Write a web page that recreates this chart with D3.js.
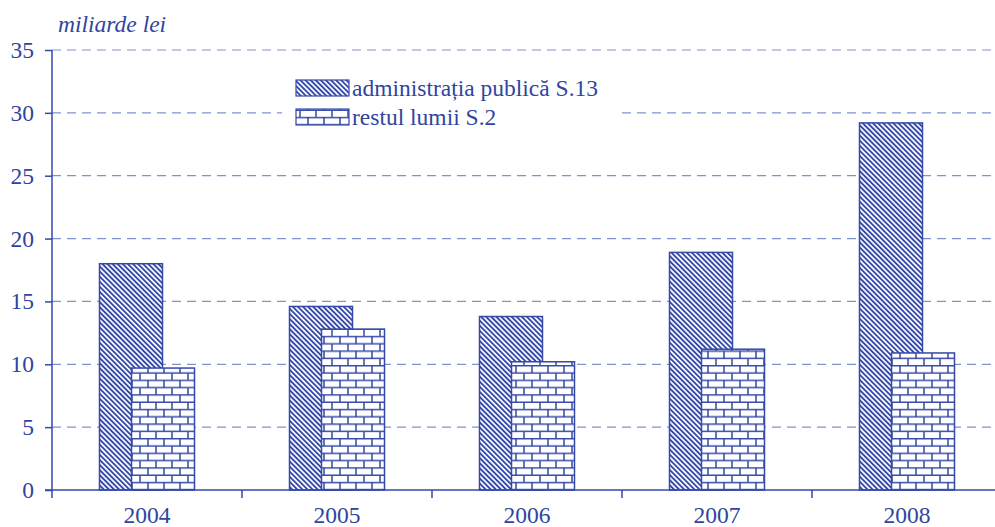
<!DOCTYPE html>
<html>
<head>
<meta charset="utf-8">
<script src="https://cdn.jsdelivr.net/npm/d3@7"></script>
<style>
  body { margin: 0; background: #fff; }
  text { font-family: "Liberation Serif", "Times New Roman", serif; fill: #2f45a0; }
</style>
</head>
<body>
<div id="chart-area"></div>
<script>
const years = ['2004', '2005', '2006', '2007', '2008'];
const adminValues = [18.0, 14.6, 13.8, 18.9, 29.2];
const restValues = [9.7, 12.8, 10.2, 11.2, 10.9];
const yTicks = [0, 5, 10, 15, 20, 25, 30, 35];
const seriesNames = ['administrația publică S.13', 'restul lumii S.2'];

const blue = '#3449a8';
const gridBlue = '#7f92cf';
const fontSize = 23.5;

const svg = d3.select('#chart-area').append('svg')
    .attr('width', 995)
    .attr('height', 527);

// patterns
const defs = svg.append('defs');
const diag = defs.append('pattern')
    .attr('id', 'diag')
    .attr('patternUnits', 'userSpaceOnUse')
    .attr('width', 3.6).attr('height', 3.6)
    .attr('patternTransform', 'rotate(-45)');
diag.append('rect').attr('width', 3.6).attr('height', 3.6).attr('fill', '#fff');
diag.append('rect').attr('x', 0).attr('width', 1.9).attr('height', 3.6).attr('fill', blue);

const brick = defs.append('pattern')
    .attr('id', 'brick')
    .attr('patternUnits', 'userSpaceOnUse')
    .attr('width', 16).attr('height', 14.6);
brick.append('rect').attr('width', 16).attr('height', 14.6).attr('fill', '#fff');
brick.append('path')
    .attr('d', 'M0,0.75H16M0,8.05H16M4,0V7.3M12,7.3V14.6')
    .attr('stroke', blue).attr('stroke-width', 1.5).attr('fill', 'none');

const margin = { left: 52, top: 50, right: 993, bottom: 490 };

const x = d3.scaleBand()
    .domain(years)
    .range([margin.left, 1002]);

const y = d3.scaleLinear()
    .domain([0, 35])
    .range([margin.bottom, margin.top]);

// grid
svg.append('g')
    .selectAll('line')
    .data(yTicks.filter(d => d > 0))
    .join('line')
    .attr('x1', margin.left)
    .attr('x2', margin.right)
    .attr('y1', d => y(d))
    .attr('y2', d => y(d))
    .attr('stroke', gridBlue)
    .attr('stroke-width', 1.2)
    .attr('stroke-dasharray', '9,6');

// bars
const barW = 63, off = 16;
svg.append('g')
    .selectAll('rect')
    .data(years)
    .join('rect')
    .attr('x', (d, i) => x(d) + x.bandwidth() / 2 - off - barW / 2)
    .attr('y', (d, i) => y(adminValues[i]))
    .attr('width', barW)
    .attr('height', (d, i) => y(0) - y(adminValues[i]))
    .attr('fill', 'url(#diag)')
    .attr('stroke', blue)
    .attr('stroke-width', 1.5);

svg.append('g')
    .selectAll('rect')
    .data(years)
    .join('rect')
    .attr('x', (d, i) => x(d) + x.bandwidth() / 2 + off - barW / 2)
    .attr('y', (d, i) => y(restValues[i]))
    .attr('width', barW)
    .attr('height', (d, i) => y(0) - y(restValues[i]))
    .attr('fill', 'url(#brick)')
    .attr('stroke', blue)
    .attr('stroke-width', 1.5);

// axes
const yAxis = svg.append('g')
    .attr('transform', `translate(${margin.left},0)`)
    .call(d3.axisLeft(y).tickValues(yTicks).tickSize(7).tickPadding(11));
yAxis.select('.domain').attr('stroke', blue).attr('stroke-width', 1.5)
    .attr('d', `M0,${margin.top}V${margin.bottom}`);
yAxis.selectAll('.tick line').attr('stroke', blue).attr('stroke-width', 1.5);
yAxis.selectAll('.tick text').attr('font-size', fontSize).attr('fill', '#2f45a0')
    .attr('font-family', '"Liberation Serif", serif');

const xAxis = svg.append('g')
    .attr('transform', `translate(0,${margin.bottom})`)
    .call(d3.axisBottom(x).tickSize(0).tickPadding(16));
xAxis.select('.domain').attr('stroke', blue).attr('stroke-width', 1.5)
    .attr('d', `M${margin.left - 7},0H1002`);
xAxis.selectAll('.tick text').attr('font-size', fontSize).attr('fill', '#2f45a0')
    .attr('font-family', '"Liberation Serif", serif');
xAxis.selectAll('.sep')
    .data(years.concat(['end']))
    .join('line')
    .attr('class', 'sep')
    .attr('x1', (d, i) => i < years.length ? x(d) : x(years[years.length - 1]) + x.bandwidth())
    .attr('x2', (d, i) => i < years.length ? x(d) : x(years[years.length - 1]) + x.bandwidth())
    .attr('y1', 0).attr('y2', 8)
    .attr('stroke', blue).attr('stroke-width', 1.5);

// unit label
svg.append('text')
    .attr('x', 58).attr('y', 32)
    .attr('font-size', fontSize)
    .attr('font-style', 'italic')
    .text('miliarde lei');

// legend
const legend = svg.append('g');
legend.append('rect')
    .attr('x', 282).attr('y', 68).attr('width', 336).attr('height', 66)
    .attr('fill', '#fff');
const fills = ['url(#diag)', 'url(#brick)'];
seriesNames.forEach((name, i) => {
    legend.append('rect')
        .attr('x', 296).attr('y', 80 + i * 29)
        .attr('width', 53).attr('height', 16)
        .attr('fill', fills[i])
        .attr('stroke', blue).attr('stroke-width', 1.2);
    legend.append('text')
        .attr('x', 352).attr('y', 96 + i * 29)
        .attr('font-size', fontSize)
        .text(name);
});
</script>
</body>
</html>
